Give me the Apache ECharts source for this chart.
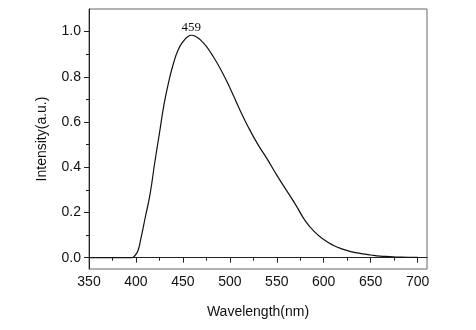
<!DOCTYPE html>
<html>
<head>
<meta charset="utf-8">
<script src="https://cdn.jsdelivr.net/npm/echarts@6/dist/echarts.min.js"></script>
<style>
html,body{margin:0;padding:0;background:#fff;}
#chart{width:476px;height:330px;}
</style>
</head>
<body>
<div id="chart"></div>
<script>
// emission spectrum
var wavelengths=[350,360,370,380,390,395,398,402,405,410,415,420,425,430,435,440,445,450,455,459,
    465,470,475,480,490,500,510,520,530,540,550,560,570,580,590,600,610,620,630,640,650,660,670,680,690,700];
var intensity=[0,0,0,0,0,0,0.005,0.03,0.08,0.18,0.28,0.42,0.55,0.68,0.78,0.86,0.92,0.955,0.977,0.984,
    0.975,0.958,0.935,0.905,0.835,0.752,0.66,0.575,0.50,0.435,0.365,0.30,0.235,0.165,0.115,0.080,
    0.055,0.038,0.026,0.018,0.012,0.007,0.005,0.003,0.002,0.002];
var peakWavelength=459;
var xTicks=[350,400,450,500,550,600,650,700];
var xMinorTicks=[375,425,475,525,575,625,675];
var yTicks=[0,0.2,0.4,0.6,0.8,1.0];
var yMinorTicks=[0.1,0.3,0.5,0.7,0.9];

var axisFont='"Liberation Sans", Arial, sans-serif';
var data=[];
for(var i=0;i<wavelengths.length;i++){
    data.push([wavelengths[i],intensity[i]]);
}
var peakIdx=wavelengths.indexOf(peakWavelength);

var xBase={type:'value',min:350,max:710,position:'bottom',splitLine:{show:false}};
var yBase={type:'value',min:-0.05,max:1.1,position:'left',splitLine:{show:false}};

var option={
    animation:false,
    grid:{left:89,right:49,top:9,bottom:61,show:true,borderColor:'#666',borderWidth:1},
    xAxis:[
        $ext(xBase,{
            name:'Wavelength(nm)',
            nameLocation:'middle',
            nameGap:36,
            nameTextStyle:{fontFamily:axisFont,fontSize:14,color:'#111'},
            axisLine:{show:true,lineStyle:{color:'#222',width:1}},
            axisTick:{show:true,customValues:xTicks,length:5,lineStyle:{color:'#222'}},
            axisLabel:{show:true,customValues:xTicks,margin:6,fontFamily:axisFont,fontSize:14,color:'#111'}
        }),
        $ext(xBase,{
            axisLine:{show:false},
            axisTick:{show:true,customValues:xMinorTicks,length:3,lineStyle:{color:'#222'}},
            axisLabel:{show:false}
        })
    ],
    yAxis:[
        $ext(yBase,{
            name:'Intensity(a.u.)',
            nameLocation:'middle',
            nameGap:40,
            nameTextStyle:{fontFamily:axisFont,fontSize:14,color:'#111'},
            axisLine:{show:true,lineStyle:{color:'#222',width:1}},
            axisTick:{show:true,customValues:yTicks,length:5,lineStyle:{color:'#222'}},
            axisLabel:{show:true,customValues:yTicks,margin:8,fontFamily:axisFont,fontSize:14,color:'#111',
                formatter:function(v){return v.toFixed(1);}}
        }),
        $ext(yBase,{
            axisLine:{show:false},
            axisTick:{show:true,customValues:yMinorTicks,length:3,lineStyle:{color:'#222'}},
            axisLabel:{show:false}
        })
    ],
    series:[{
        type:'line',
        data:data,
        smooth:0.5,
        symbol:'none',
        lineStyle:{color:'#111',width:1.2},
        markPoint:{
            symbol:'circle',
            symbolSize:0,
            data:[{coord:data[peakIdx],value:peakWavelength}],
            label:{
                show:true,
                position:'top',
                distance:1,
                formatter:String(peakWavelength),
                fontFamily:'"Liberation Serif", "Times New Roman", serif',
                fontSize:13,
                color:'#111'
            }
        }
    }]
};

function $ext(a,b){
    var o={},k;
    for(k in a) o[k]=a[k];
    for(k in b) o[k]=b[k];
    return o;
}

var chart=echarts.init(document.getElementById('chart'),null,{renderer:'canvas'});
chart.setOption(option);
</script>
</body>
</html>
